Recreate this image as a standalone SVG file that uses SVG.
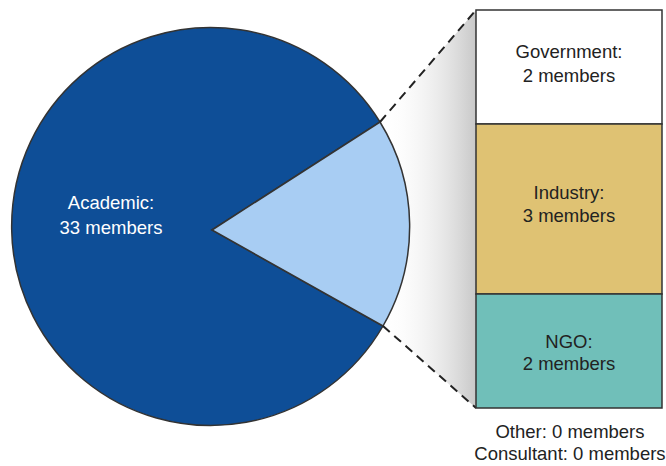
<svg xmlns="http://www.w3.org/2000/svg" width="666" height="466" viewBox="0 0 666 466">
<defs>
<linearGradient id="shade" x1="0" y1="0" x2="1" y2="0">
<stop offset="0" stop-color="#ffffff" stop-opacity="0"/>
<stop offset="1" stop-color="#c8c8c8"/>
</linearGradient>
</defs>
<style>
text{font-family:"Liberation Sans",Arial,sans-serif;font-size:18.5px;text-anchor:middle;fill:#222}
.w{fill:#fff}
.seg{stroke:#333;stroke-width:1.5}
</style>
<rect width="666" height="466" fill="#fff"/>
<polygon points="380,122 476,10 476,408 383,326" fill="url(#shade)"/>
<g id="pie">
<path d="M212,230 L380,122 A199,199 0 1 0 383,326 Z" fill="#0e4e97" stroke="#333" stroke-width="1.5"/>
<path d="M212,230 L380,122 A199,199 0 0 1 383,326 Z" fill="#a8cdf3" stroke="#333" stroke-width="1.5"/>
<text class="w" x="111" y="209">Academic:</text>
<text class="w" x="111" y="234">33 members</text>
</g>
<g id="connectors">
<line x1="380" y1="122" x2="476" y2="10" stroke="#222" stroke-width="2" stroke-dasharray="9,6"/>
<line x1="383" y1="326" x2="476" y2="408" stroke="#222" stroke-width="2" stroke-dasharray="9,6"/>
</g>
<g id="government">
<rect class="seg" x="476" y="10" width="186" height="114" fill="#ffffff"/>
<text x="569" y="58">Government:</text>
<text x="569" y="82">2 members</text>
</g>
<g id="industry">
<rect class="seg" x="476" y="124" width="186" height="170" fill="#dfc273"/>
<text x="569" y="199">Industry:</text>
<text x="569" y="222">3 members</text>
</g>
<g id="ngo">
<rect class="seg" x="476" y="294" width="186" height="114" fill="#70bfb9"/>
<text x="569" y="348">NGO:</text>
<text x="569" y="370">2 members</text>
</g>
<g id="other">
<text x="570" y="438">Other: 0 members</text>
<text x="570" y="460">Consultant: 0 members</text>
</g>
</svg>
